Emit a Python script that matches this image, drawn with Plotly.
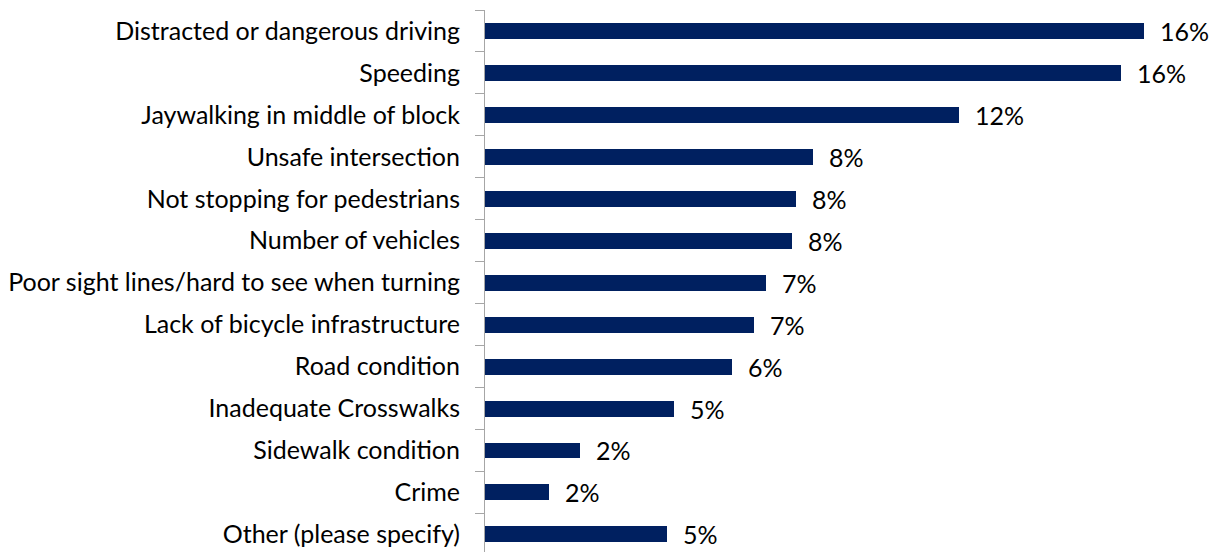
import plotly.graph_objects as go

# Survey responses: perceived causes of unsafe streets (share of responses, %)
categories = [
    "Distracted or dangerous driving",
    "Speeding",
    "Jaywalking in middle of block",
    "Unsafe intersection",
    "Not stopping for pedestrians",
    "Number of vehicles",
    "Poor sight lines/hard to see when turning",
    "Lack of bicycle infrastructure",
    "Road condition",
    "Inadequate Crosswalks",
    "Sidewalk condition",
    "Crime",
    "Other (please specify)",
]
shares = [16.40, 15.81, 11.80, 8.15, 7.74, 7.64, 6.98, 6.68, 6.14, 4.71, 2.37, 1.60, 4.53]

BAR_COLOR = "#002060"
AXIS_GRAY = "#A6A6A6"
FONT = "Lato"
FONT_SIZE = 25

fig = go.Figure(
    go.Bar(
        x=shares,
        y=categories,
        orientation="h",
        marker=dict(color=BAR_COLOR, line=dict(width=0)),
        width=0.38,
        hoverinfo="skip",
    )
)

# value labels to the right of each bar
for cat, val in zip(categories, shares):
    fig.add_annotation(
        x=val, y=cat, text=f"{val:.0f}%", showarrow=False,
        xanchor="left", yanchor="middle", xshift=14,
        font=dict(family=FONT, size=FONT_SIZE, color="#000000"),
    )

fig.update_layout(
    width=1215, height=552,
    margin=dict(l=485, r=10, t=10, b=0),
    paper_bgcolor="white", plot_bgcolor="white",
    showlegend=False,
    bargap=0,
    font=dict(family=FONT, size=FONT_SIZE, color="#000000"),
)
fig.update_xaxes(
    range=[0, 17.91], visible=False, showgrid=False, zeroline=False,
)
fig.update_yaxes(
    type="category",
    range=[12.42, -0.5],
    showline=True, linecolor=AXIS_GRAY, linewidth=1,
    ticks="outside", tickson="boundaries", ticklen=9, tickcolor=AXIS_GRAY, tickwidth=1,
    ticklabelstandoff=19,
    showgrid=False, zeroline=False, automargin=False,
    tickfont=dict(family=FONT, size=FONT_SIZE, color="#000000"),
)

fig.write_html("out.html")
